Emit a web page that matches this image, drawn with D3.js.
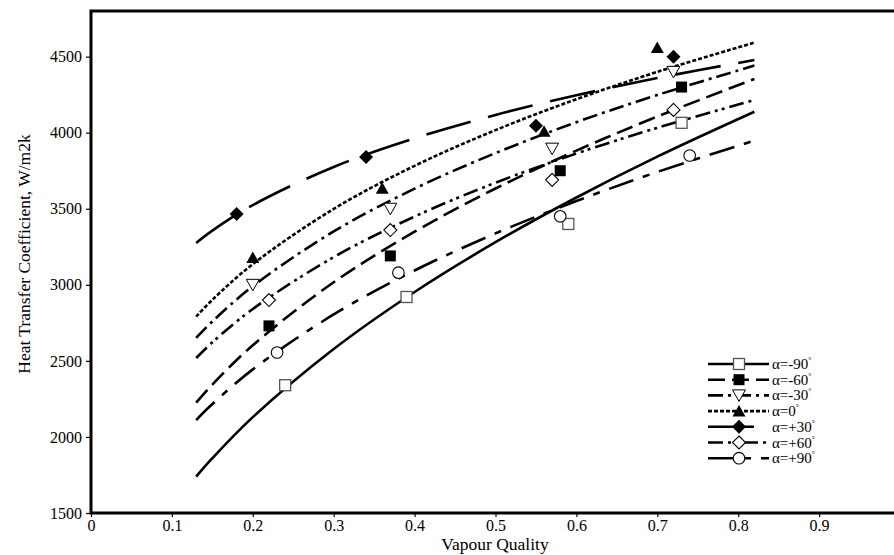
<!DOCTYPE html>
<html>
<head>
<meta charset="utf-8">
<script src="https://cdn.jsdelivr.net/npm/d3@7"></script>
<style>
  html, body { margin: 0; padding: 0; background: #fff; }
  svg { display: block; }
  text { font-family: "Liberation Serif", "Times New Roman", serif; fill: #000; }
</style>
</head>
<body>
<svg id="chart" width="894" height="555"></svg>
<script>
// ---------- data ----------
const xTicks = [0, 0.1, 0.2, 0.3, 0.4, 0.5, 0.6, 0.7, 0.8, 0.9];
const yTicks = [1500, 2000, 2500, 3000, 3500, 4000, 4500];

const seriesNames = ["α=-90", "α=-60", "α=-30", "α=0", "α=+30", "α=+60", "α=+90"];

// correlation curves
const curveX = [0.13, 0.15, 0.2, 0.3, 0.4, 0.5, 0.6, 0.7, 0.82];
const curveM90 = [1739, 1860, 2130, 2578, 2953, 3280, 3574, 3843, 4138];
const curveM60 = [2225, 2344, 2603, 3017, 3349, 3633, 3882, 4106, 4353];
const curveM30 = [2651, 2759, 2991, 3351, 3632, 3866, 4069, 4248, 4441];
const curve0   = [2791, 2901, 3136, 3499, 3782, 4017, 4220, 4400, 4592];
const curveP30 = [3275, 3356, 3524, 3775, 3963, 4117, 4246, 4359, 4478];
const curveP60 = [2519, 2622, 2841, 3182, 3449, 3671, 3863, 4032, 4215];
const curveP90 = [2111, 2216, 2444, 2805, 3094, 3338, 3551, 3742, 3948];

// experimental points
const ptsXM90 = [0.24, 0.39, 0.59, 0.73]; const ptsM90 = [2340, 2920, 3400, 4065];
const ptsXM60 = [0.22, 0.37, 0.58, 0.73]; const ptsM60 = [2730, 3190, 3750, 4300];
const ptsXM30 = [0.20, 0.37, 0.57, 0.72]; const ptsM30 = [3000, 3500, 3895, 4400];
const ptsX0   = [0.20, 0.36, 0.56, 0.70]; const pts0   = [3180, 3635, 4010, 4560];
const ptsXP30 = [0.18, 0.34, 0.55, 0.72]; const ptsP30 = [3465, 3840, 4045, 4500];
const ptsXP60 = [0.22, 0.37, 0.57, 0.72]; const ptsP60 = [2900, 3360, 3690, 4150];
const ptsXP90 = [0.23, 0.38, 0.58, 0.74]; const ptsP90 = [2555, 3080, 3450, 3850];

// ---------- build ----------
const curvesY = [curveM90, curveM60, curveM30, curve0, curveP30, curveP60, curveP90];
const ptsX = [ptsXM90, ptsXM60, ptsXM30, ptsX0, ptsXP30, ptsXP60, ptsXP90];
const ptsY = [ptsM90, ptsM60, ptsM30, pts0, ptsP30, ptsP60, ptsP90];

const styles = [
  { dash: null,                 marker: "squareOpen" },
  { dash: "17,7",               marker: "squareFill" },
  { dash: "15,5,3,5",           marker: "triDownOpen" },
  { dash: "4,2",                marker: "triUpFill" },
  { dash: "46,18",              marker: "diamondFill" },
  { dash: "15,5,3,4,3,5",       marker: "diamondOpen" },
  { dash: "26,10,7,10",         marker: "circleOpen" }
];

const svg = d3.select("#chart");
const pLeft = 91, pRight = 900, pTop = 11, pBottom = 513;

const x = d3.scaleLinear().domain([0, 1]).range([pLeft, pRight]);
const y = d3.scaleLinear().domain([1500, 4800]).range([pBottom, pTop]);

// axes
const yAxis = svg.append("g").attr("transform", `translate(${pLeft},0)`)
  .call(d3.axisLeft(y).tickValues(yTicks).tickSize(5).tickPadding(4).tickFormat(d3.format("d")));
yAxis.select(".domain").remove();
yAxis.attr("font-family", "Liberation Serif, serif");
yAxis.selectAll("line").attr("stroke", "#000").attr("stroke-width", 1.2);
yAxis.selectAll("text").style("font-family", "Liberation Serif, serif").style("font-size", "16px").attr("fill", "#000");

const xAxis = svg.append("g").attr("transform", `translate(0,${pBottom})`)
  .call(d3.axisBottom(x).tickValues(xTicks).tickSize(4).tickPadding(3).tickFormat(d => d === 0 ? "0" : d3.format(".1f")(d)));
xAxis.select(".domain").remove();
xAxis.attr("font-family", "Liberation Serif, serif");
xAxis.selectAll("line").attr("stroke", "#000").attr("stroke-width", 1.2);
xAxis.selectAll("text").style("font-family", "Liberation Serif, serif").style("font-size", "16px").attr("fill", "#000");

// frame
svg.append("path")
  .attr("d", `M${pRight},${pTop} L${pLeft},${pTop} L${pLeft},${pBottom} L${pRight},${pBottom}`)
  .attr("fill", "none").attr("stroke", "#000").attr("stroke-width", 3);

// titles
svg.append("text").attr("x", 495).attr("y", 550).attr("text-anchor", "middle")
  .style("font-size", "17.5px").text("Vapour Quality");
svg.append("text").attr("transform", "translate(30,254) rotate(-90)").attr("text-anchor", "middle")
  .style("font-size", "17.5px").text("Heat Transfer Coefficient, W/m2k");

// curves
const line = d3.line().x(d => x(d[0])).y(d => y(d[1])).curve(d3.curveCatmullRom);
curvesY.forEach((cy, i) => {
  const data = curveX.map((cx, j) => [cx, cy[j]]);
  svg.append("path").datum(data).attr("d", line)
    .attr("fill", "none").attr("stroke", "#000").attr("stroke-width", 2.6)
    .attr("stroke-dasharray", styles[i].dash);
});

// markers
function drawMarker(g, type, cx, cy) {
  const s = 5.5;
  switch (type) {
    case "squareOpen":
      g.append("rect").attr("x", cx - s).attr("y", cy - s).attr("width", 2 * s).attr("height", 2 * s)
        .attr("fill", "#fff").attr("stroke", "#555").attr("stroke-width", 1.3); break;
    case "squareFill":
      g.append("rect").attr("x", cx - s).attr("y", cy - s).attr("width", 2 * s).attr("height", 2 * s)
        .attr("fill", "#000"); break;
    case "triDownOpen":
      g.append("path").attr("d", `M${cx - 6.5},${cy - 5.5} L${cx + 6.5},${cy - 5.5} L${cx},${cy + 6} Z`)
        .attr("fill", "#fff").attr("stroke", "#000").attr("stroke-width", 1); break;
    case "triUpFill":
      g.append("path").attr("d", `M${cx - 6.5},${cy + 5.5} L${cx + 6.5},${cy + 5.5} L${cx},${cy - 6} Z`)
        .attr("fill", "#000"); break;
    case "diamondFill":
      g.append("path").attr("d", `M${cx},${cy - 7} L${cx + 7},${cy} L${cx},${cy + 7} L${cx - 7},${cy} Z`)
        .attr("fill", "#000"); break;
    case "diamondOpen":
      g.append("path").attr("d", `M${cx},${cy - 6.5} L${cx + 6.5},${cy} L${cx},${cy + 6.5} L${cx - 6.5},${cy} Z`)
        .attr("fill", "#fff").attr("stroke", "#000").attr("stroke-width", 1.1); break;
    case "circleOpen":
      g.append("circle").attr("cx", cx).attr("cy", cy).attr("r", 5.8)
        .attr("fill", "#fff").attr("stroke", "#000").attr("stroke-width", 1.1); break;
  }
}
const mg = svg.append("g");
ptsX.forEach((px, i) => {
  px.forEach((vx, j) => drawMarker(mg, styles[i].marker, x(vx), y(ptsY[i][j])));
});

// legend
const lg = svg.append("g");
seriesNames.forEach((name, i) => {
  const ly = 364 + i * 15.7;
  lg.append("line").attr("x1", 708).attr("x2", 769).attr("y1", ly).attr("y2", ly)
    .attr("stroke", "#000").attr("stroke-width", 2.6).attr("stroke-dasharray", styles[i].dash);
  drawMarker(lg, styles[i].marker, 739, ly);
  const t = lg.append("text").attr("x", 772).attr("y", ly + 5).style("font-size", "15px");
  t.append("tspan").text(name);
  t.append("tspan").attr("dy", -6).style("font-size", "8px").text("°");
});
</script>
</body>
</html>
